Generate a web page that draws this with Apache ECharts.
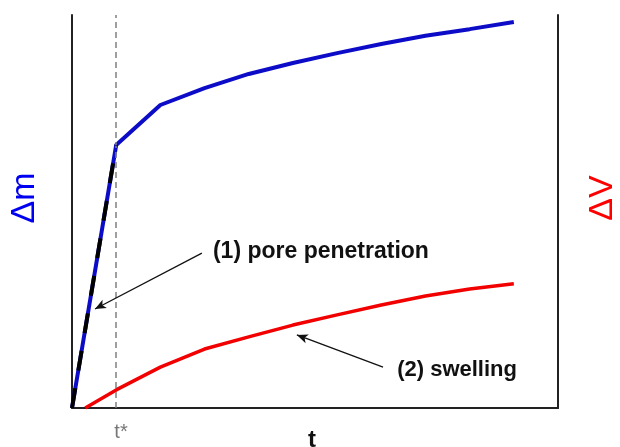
<!DOCTYPE html>
<html>
<head>
<meta charset="utf-8">
<script src="https://cdn.jsdelivr.net/npm/echarts@6/dist/echarts.min.js"></script>
<style>
  html, body { margin: 0; padding: 0; background: #fff; }
  #chart { width: 620px; height: 447px; }
</style>
</head>
<body>
<div id="chart"></div>
<script>
// Time steps (arbitrary units) and the two responses
var massTime   = [0, 1, 2, 3, 4, 5, 6, 7, 8, 9, 10];
var massGain   = [0, 66.9, 77.1, 81.4, 85.0, 87.8, 90.3, 92.6, 94.7, 96.4, 98.2];
var volumeTime = [0.3, 1, 2, 3, 4, 5, 6, 7, 8, 9, 10];
var volumeGain = [0, 4.6, 10.4, 15.0, 18.1, 21.1, 23.7, 26.2, 28.5, 30.3, 31.6];

// Initial, pore-filling stage of the mass curve
var poreTime = [0, 1];
var poreMass = [0, 66.9];

// Characteristic time t*
var tStar = 1;

// Annotation arrows: [from, to] in (t, value) units
var poreArrow  = [[2.94, 39.4], [0.52, 25.2]];
var swellArrow = [[7.04, 10.4], [5.09, 18.6]];
var poreText   = { t: 3.19, v: 39.9, text: '(1) pore penetration' };
var swellText  = { t: 7.36, v: 9.7,  text: '(2) swelling' };

function pairs(xs, ys) {
  return xs.map(function (x, i) { return [x, ys[i]]; });
}

var font = 'Liberation Sans, Arial, sans-serif';
var chart = echarts.init(document.getElementById('chart'));

chart.setOption({
  animation: false,
  backgroundColor: '#ffffff',
  grid: { left: 72, right: 62, top: 15, bottom: 39 },
  xAxis: {
    type: 'value', min: 0, max: 11,
    axisLine: { show: true, onZero: false, lineStyle: { color: '#222', width: 2 } },
    axisTick: { show: false }, axisLabel: { show: false }, splitLine: { show: false }
  },
  yAxis: [
    {
      type: 'value', min: 0, max: 100, position: 'left',
      axisLine: { show: true, onZero: false, lineStyle: { color: '#222', width: 2 } },
      axisTick: { show: false }, axisLabel: { show: false }, splitLine: { show: false }
    },
    {
      type: 'value', min: 0, max: 100, position: 'right',
      axisLine: { show: true, onZero: false, lineStyle: { color: '#222', width: 2 } },
      axisTick: { show: false }, axisLabel: { show: false }, splitLine: { show: false }
    }
  ],
  series: [
    {
      name: 'volume', type: 'line', symbol: 'none',
      data: pairs(volumeTime, volumeGain),
      lineStyle: { color: '#f20000', width: 3.5 },
      z: 3,
      markLine: {
        silent: true, symbol: 'none', label: { show: false },
        lineStyle: { color: '#808080', type: [6, 4], width: 1.5 },
        data: [{ xAxis: tStar }]
      }
    },
    {
      name: 'mass', type: 'line', symbol: 'none',
      data: pairs(massTime, massGain),
      lineStyle: { color: '#0c0cc8', width: 4 },
      z: 4
    },
    {
      name: 'pore', type: 'line', symbol: 'none',
      data: pairs(poreTime, poreMass),
      lineStyle: { color: '#000', width: 4, type: [20, 18] },
      z: 5,
      markLine: {
        silent: true, label: { show: false },
        symbol: ['none', 'arrow'], symbolSize: [7, 11],
        lineStyle: { color: '#111', type: 'solid', width: 1.3 },
        data: [
          [{ coord: poreArrow[0] }, { coord: poreArrow[1] }],
          [{ coord: swellArrow[0] }, { coord: swellArrow[1] }]
        ]
      },
      markPoint: {
        silent: true, symbol: 'circle', symbolSize: 0,
        label: {
          show: true, position: 'right', distance: 0,
          color: '#111', fontFamily: font, fontWeight: 'bold', fontSize: 22,
          formatter: function (p) { return p.name; }
        },
        data: [
          { name: poreText.text, coord: [poreText.t, poreText.v], label: { fontSize: 23 } },
          { name: swellText.text, coord: [swellText.t, swellText.v] }
        ]
      }
    }
  ],
  graphic: [
    {
      type: 'text', x: 25, y: 198, rotation: Math.PI / 2,
      style: { text: 'Δm', fill: '#0000f0', font: '34px ' + font, align: 'center', verticalAlign: 'middle' }
    },
    {
      type: 'text', x: 603, y: 198, rotation: Math.PI / 2,
      style: { text: 'ΔV', fill: '#ff0000', font: '34px ' + font, align: 'center', verticalAlign: 'middle' }
    },
    {
      type: 'text', x: 312, y: 440,
      style: { text: 't', fill: '#111', font: 'bold 24px ' + font, align: 'center', verticalAlign: 'middle' }
    },
    {
      type: 'text', x: 121, y: 432,
      style: { text: 't*', fill: '#777777', font: '20px ' + font, align: 'center', verticalAlign: 'middle' }
    }
  ]
});
</script>
</body>
</html>
